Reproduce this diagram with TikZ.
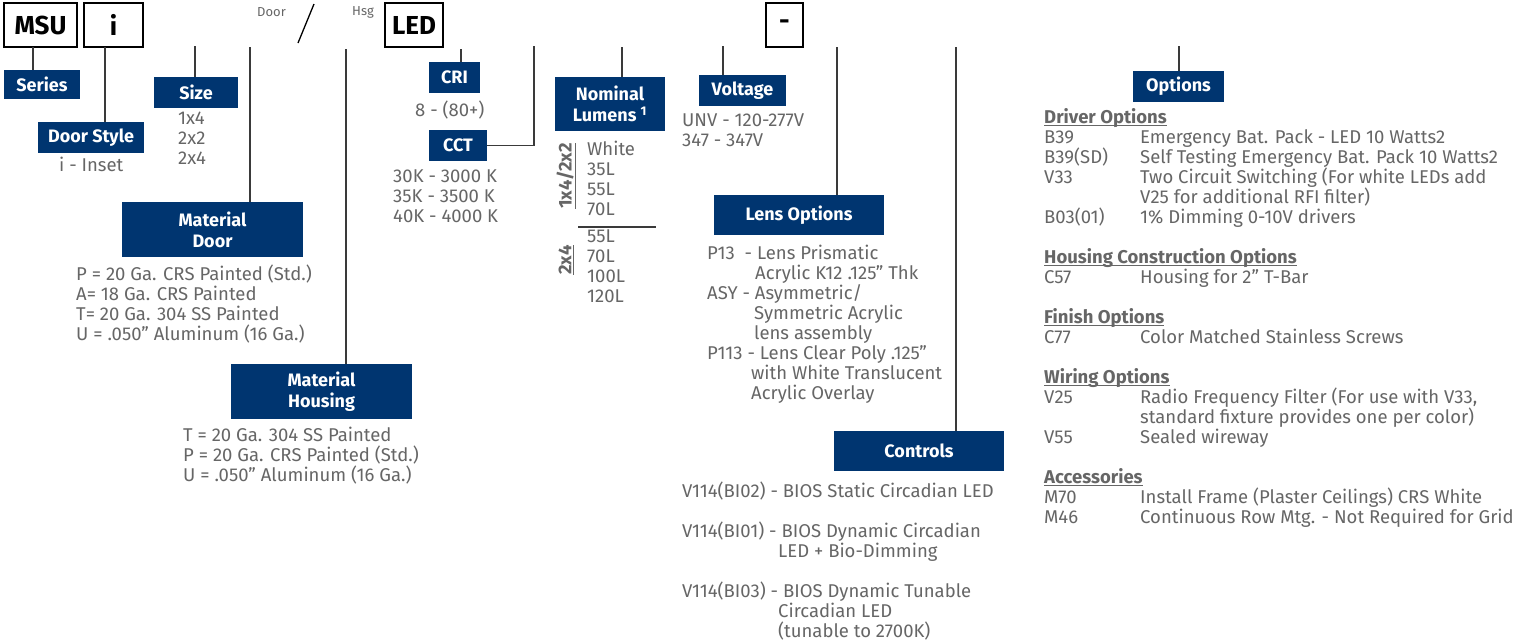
\documentclass[tikz,border=0pt]{standalone}
\usepackage{fontspec}
\setmainfont{Fira Sans}
\usetikzlibrary{positioning}
\definecolor{SpecNavy}{HTML}{003570}
\definecolor{SpecGrey}{HTML}{666666}
\definecolor{SpecLine}{HTML}{3A3A3A}
\newcommand{\optitle}[1]{\setbox0\hbox{\textbf{#1}}\rlap{\rule[-2.6pt]{\wd0}{1.1pt}}\box0}
\newcommand{\optrow}[2]{\makebox[96pt][l]{#1}#2}
\tikzset{
  codebox/.style={draw=black, line width=1.3pt, inner sep=0pt,
    font=\fontsize{26}{28}\selectfont\bfseries},
  tagbox/.style={fill=SpecNavy, text=white, inner sep=0pt, align=center,
    font=\fontsize{18}{21}\selectfont\bfseries},
  spec/.style={text=SpecGrey, inner sep=0pt, align=left, anchor=north west,
    font=\fontsize{18.5}{20}\selectfont},
  tap/.style={draw=SpecLine, line width=1.3pt}
}

\begin{document}
\begin{tikzpicture}[x=1pt, y=-1pt]
  \useasboundingbox[fill=white] (0,0) rectangle (1522,641);

  \node[codebox, minimum width=73pt, minimum height=44pt] (msu) at (40.5,25) {MSU};
  \node[codebox, minimum width=59pt, minimum height=44pt] (ibox) at (113.5,25) {i};
  \node[codebox, minimum width=58pt, minimum height=44pt] (led) at (414,25) {LED};
  \node[codebox, minimum width=37pt, minimum height=44pt] (dashbox) at (784.5,25) {-};
  \node[text=SpecGrey, inner sep=0pt, anchor=west, font=\fontsize{13}{15}\selectfont] (doorlbl) at (257,12) {Door};
  \node[text=SpecGrey, inner sep=0pt, anchor=west, font=\fontsize{13}{15}\selectfont] (hsglbl) at (352,12) {Hsg};
  \draw[line width=1.3pt] (298,43) -- (314,4);

  \node[tagbox, minimum width=76pt, minimum height=29pt] (series) at (42,84.5) {Series};
  \node[tagbox, minimum width=106pt, minimum height=31pt] (doorstyle) at (91,137.5) {Door Style};
  \node[tagbox, minimum width=84pt, minimum height=31pt] (size) at (196,92.5) {Size};
  \node[tagbox, minimum width=181pt, minimum height=55pt] (matdoor) at (212.5,229.5) {Material\\Door};
  \node[tagbox, minimum width=181pt, minimum height=55pt] (mathsg) at (321.5,391.5) {Material\\Housing};
  \node[tagbox, minimum width=51pt, minimum height=31pt] (cri) at (454.5,77.5) {CRI};
  \node[tagbox, minimum width=58pt, minimum height=31pt] (cct) at (458,145.5) {CCT};
  \node[tagbox, minimum width=110pt, minimum height=54pt] (lumens) at (610,104) {Nominal\\Lumens \textsuperscript{1}};
  \node[tagbox, minimum width=87pt, minimum height=31pt] (voltage) at (742.5,90.5) {Voltage};
  \node[tagbox, minimum width=170pt, minimum height=40pt] (lens) at (799,215) {Lens Options};
  \node[tagbox, minimum width=170pt, minimum height=40pt] (controls) at (919,451) {Controls};
  \node[tagbox, minimum width=91pt, minimum height=31pt] (options) at (1178.5,86.5) {Options};

  \node[spec] (inset) at (59,157) {i - Inset};
  \node[spec] (sizes) at (178,112) {1x4\\2x2\\2x4};
  \node[spec] (doorval) at (76,265) {P = 20 Ga. CRS Painted (Std.)\\A= 18 Ga. CRS Painted\\T= 20 Ga. 304 SS Painted\\U = .050” Aluminum (16 Ga.)};
  \node[spec] (hsgval) at (183,427) {T = 20 Ga. 304 SS Painted\\P = 20 Ga. CRS Painted (Std.)\\U = .050” Aluminum (16 Ga.)};
  \node[spec] (crival) at (415,101) {8 - (80+)};
  \node[spec] (cctval) at (393,170) {30K - 3000 K\\35K - 3500 K\\40K - 4000 K};
  \node[spec, anchor=center, rotate=90, font=\fontsize{18.5}{20}\selectfont\bfseries] (lumtagA) at (566,176) {\underline{1x4/2x2}};
  \node[spec, anchor=center, rotate=90, font=\fontsize{18.5}{20}\selectfont\bfseries] (lumtagB) at (566,260) {\underline{2x4}};
  \node[spec] (lumA) at (587,141) {White\\35L\\55L\\70L};
  \node[spec] (lumB) at (587,230) {55L\\70L\\100L\\120L};
  \node[spec] (volts) at (682,114) {UNV - 120-277V\\347 - 347V};
  \node[spec] (lensval) at (707,245) {P13 \ - Lens Prismatic\\\hspace*{48pt}Acrylic K12 .125” Thk\\ASY - Asymmetric/\\\hspace*{47pt}Symmetric Acrylic\\\hspace*{47pt}lens assembly\\P113 - Lens Clear Poly .125”\\\hspace*{44pt}with White Translucent\\\hspace*{44pt}Acrylic Overlay};
  \node[spec] (ctrlval) at (682,482) {V114(BI02) - BIOS Static Circadian LED\\[20pt]V114(BI01) - BIOS Dynamic Circadian\\\hspace*{96pt}LED + Bio-Dimming\\[20pt]V114(BI03) - BIOS Dynamic Tunable\\\hspace*{96pt}Circadian LED\\\hspace*{96pt}(tunable to 2700K)};
  \node[spec] (optval) at (1044,108) {\optitle{Driver Options}\\
    \optrow{B39}{Emergency Bat. Pack - LED 10 Watts2}\\
    \optrow{B39(SD)}{Self Testing Emergency Bat. Pack 10 Watts2}\\
    \optrow{V33}{Two Circuit Switching (For white LEDs add}\\
    \optrow{}{V25 for additional RFI filter)}\\
    \optrow{B03(01)}{1\% Dimming 0-10V drivers}\\[20pt]
    \optitle{Housing Construction Options}\\
    \optrow{C57}{Housing for 2” T-Bar}\\[20pt]
    \optitle{Finish Options}\\
    \optrow{C77}{Color Matched Stainless Screws}\\[20pt]
    \optitle{Wiring Options}\\
    \optrow{V25}{Radio Frequency Filter (For use with V33,}\\
    \optrow{}{standard fixture provides one per color)}\\
    \optrow{V55}{Sealed wireway}\\[20pt]
    \optitle{Accessories}\\
    \optrow{M70}{Install Frame (Plaster Ceilings) CRS White}\\
    \optrow{M46}{Continuous Row Mtg. - Not Required for Grid}};

  \coordinate (msutap) at (33,47);
  \coordinate (itap) at (105,47);
  \coordinate (sizetap) at (195,46);
  \coordinate (doortap) at (250,47);
  \coordinate (hsgtap) at (346,49);
  \coordinate (critap) at (461,49);
  \coordinate (ccttap) at (534,46);
  \coordinate (lumtap) at (622,47);
  \coordinate (volttap) at (723,46);
  \coordinate (lenstap) at (837,47);
  \coordinate (ctrltap) at (956,47);
  \coordinate (opttap) at (1179,46);
  \coordinate (lumruleL) at (578,227);
  \coordinate (lumruleR) at (656,227);

  \draw[tap] (msutap) -- (msutap |- series.north);
  \draw[tap] (itap) -- (itap |- doorstyle.north);
  \draw[tap] (sizetap) -- (sizetap |- size.north);
  \draw[tap] (doortap) -- (doortap |- matdoor.north);
  \draw[tap] (hsgtap) -- (hsgtap |- mathsg.north);
  \draw[tap] (critap) -- (critap |- cri.north);
  \draw[tap] (cct.east) -- (cct.east -| ccttap) -- (ccttap);
  \draw[tap] (lumtap) -- (lumtap |- lumens.north);
  \draw[tap] (volttap) -- (volttap |- voltage.north);
  \draw[tap] (lenstap) -- (lenstap |- lens.north);
  \draw[tap] (ctrltap) -- (ctrltap |- controls.north);
  \draw[tap] (opttap) -- (opttap |- options.north);
  \draw[tap] (lumruleL) -- (lumruleR);
\end{tikzpicture}
\end{document}
